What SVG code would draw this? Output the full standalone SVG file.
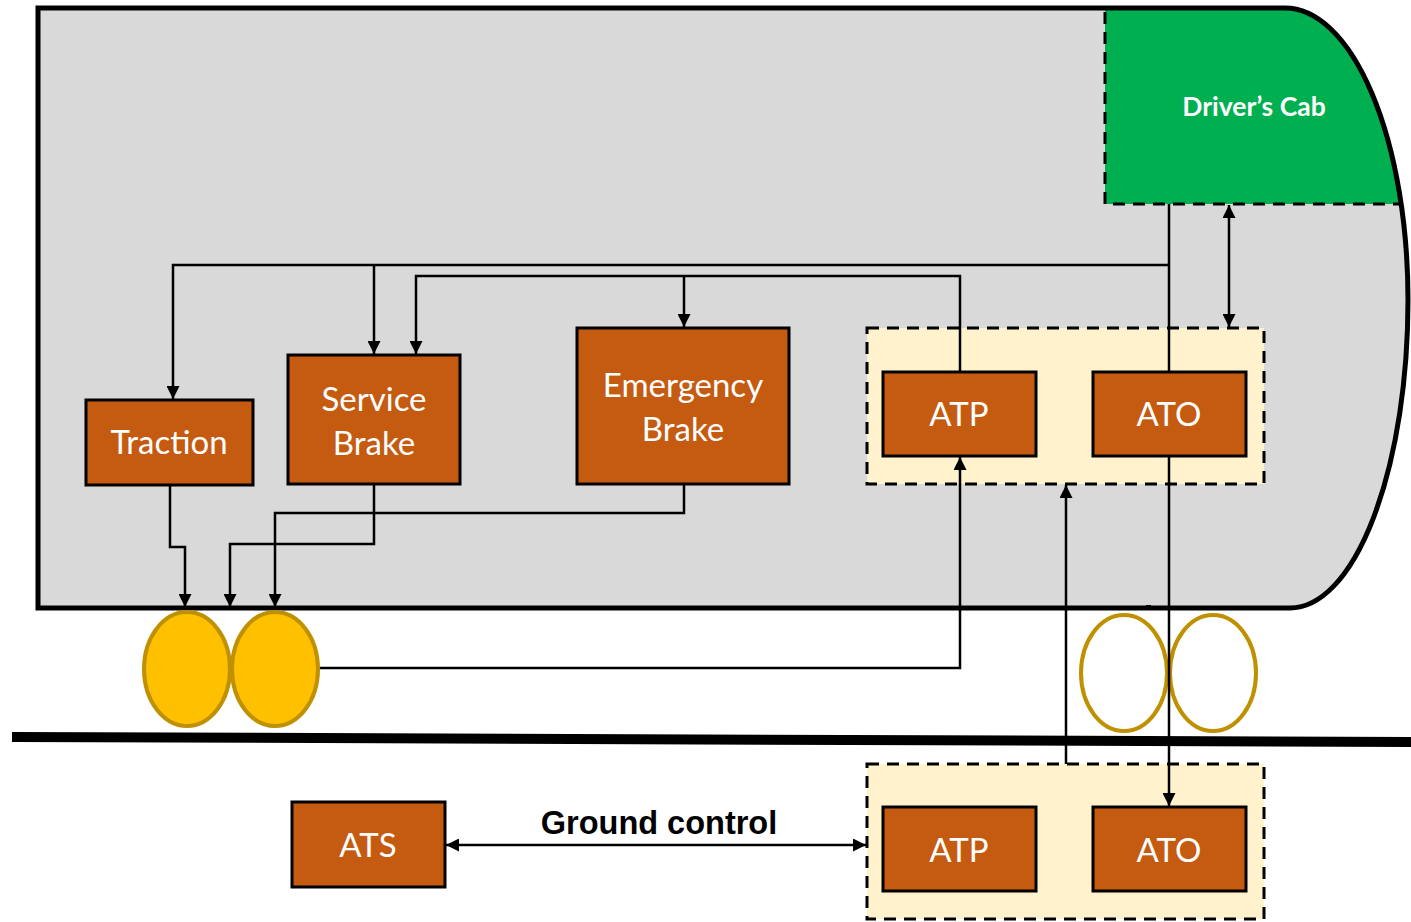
<svg xmlns="http://www.w3.org/2000/svg" width="1411" height="922" viewBox="0 0 1411 922">
<style>
.box{fill:#C55A11;stroke:#000;stroke-width:3}
.lbl{font-family:Lato,"Liberation Sans",sans-serif;font-size:33px;fill:#fff;text-anchor:middle}
.dash{fill:#FFF2CC;stroke:#000;stroke-width:3;stroke-dasharray:12,8}
.conn{fill:none;stroke:#000;stroke-width:2.5}
.wheel{stroke:#BF9000;stroke-width:4}
</style>
<defs>
<marker id="arr" markerUnits="userSpaceOnUse" markerWidth="13" markerHeight="13" refX="13" refY="6.5" orient="auto-start-reverse" viewBox="0 0 13 13">
<path d="M0,0 L13,6.5 L0,13 z" fill="#000"/>
</marker>
<clipPath id="bodyclip">
<path d="M38,8 L1285,8 A123,292 0 0 1 1408,300 A118,308 0 0 1 1290,608 L38,608 Z"/>
</clipPath>
</defs>
<rect width="1411" height="922" fill="#fff"/>
<g id="train">
<path d="M38,8 L1285,8 A123,292 0 0 1 1408,300 A118,308 0 0 1 1290,608 L38,608 Z" fill="#D9D9D9"/>
</g>
<g id="cab">
<rect x="1105" y="8" width="310" height="196" fill="#00B050" clip-path="url(#bodyclip)"/>
<path d="M1105,12 L1105,204 L1401,204" fill="none" stroke="#000" stroke-width="3" stroke-dasharray="12,8"/>
<text x="1254" y="116" font-family="Lato,'Liberation Sans',sans-serif" font-weight="bold" font-size="26.5" fill="#fff" text-anchor="middle">Driver’s Cab</text>
</g>
<path d="M38,8 L1285,8 A123,292 0 0 1 1408,300 A118,308 0 0 1 1290,608 L38,608 Z" fill="none" stroke="#000" stroke-width="5"/>
<rect x="1146" y="605" width="5" height="5" fill="#000"/>
<g id="onboard-group">
<rect class="dash" x="867" y="328" width="397" height="156"/>
</g>
<g id="ground-group">
<rect class="dash" x="867" y="764" width="397" height="155"/>
</g>
<g id="wheels">
<ellipse class="wheel" cx="187" cy="669" rx="43" ry="57" fill="#FFC000"/>
<ellipse class="wheel" cx="275" cy="669" rx="43" ry="57" fill="#FFC000"/>
<ellipse class="wheel" cx="1124" cy="673" rx="43" ry="58" fill="#fff"/>
<ellipse class="wheel" cx="1213" cy="673" rx="43" ry="58" fill="#fff"/>
</g>
<g id="rail">
<line x1="12" y1="737" x2="1411" y2="742" stroke="#000" stroke-width="10"/>
</g>
<g id="connectors">
<path class="conn" d="M1169,204 L1169,372"/>
<path class="conn" d="M1169,265 L173,265 L173,399" marker-end="url(#arr)"/>
<path class="conn" d="M374,265 L374,354" marker-end="url(#arr)"/>
<path class="conn" d="M960,372 L960,276 L416,276 L416,354" marker-end="url(#arr)"/>
<path class="conn" d="M684,276 L684,327" marker-end="url(#arr)"/>
<path class="conn" d="M1229,205 L1229,327" marker-start="url(#arr)" marker-end="url(#arr)"/>
<path class="conn" d="M1169,456 L1169,806" marker-end="url(#arr)"/>
<path class="conn" d="M1066,764 L1066,485" marker-end="url(#arr)"/>
<path class="conn" d="M320,668 L960,668 L960,457" marker-end="url(#arr)"/>
<path class="conn" d="M170,485 L170,547 L185,547 L185,607" marker-end="url(#arr)"/>
<path class="conn" d="M374,484 L374,544 L230,544 L230,607" marker-end="url(#arr)"/>
<path class="conn" d="M684,484 L684,513 L275,513 L275,607" marker-end="url(#arr)"/>
<path class="conn" d="M446,845 L866,845" marker-start="url(#arr)" marker-end="url(#arr)"/>
<text x="659" y="834" font-family="'Liberation Sans',Arial,sans-serif" font-weight="bold" font-size="32.5" fill="#000" text-anchor="middle">Ground control</text>
</g>
<g id="traction">
<rect class="box" x="86" y="400" width="167" height="85"/>
<text class="lbl" x="169" y="454">Traction</text>
</g>
<g id="service-brake">
<rect class="box" x="288" y="355" width="172" height="129"/>
<text class="lbl" x="374" y="411">Service</text>
<text class="lbl" x="374" y="455">Brake</text>
</g>
<g id="emergency-brake">
<rect class="box" x="577" y="328" width="212" height="156"/>
<text class="lbl" x="683" y="397">Emergency</text>
<text class="lbl" x="683" y="441">Brake</text>
</g>
<g id="atp-onboard">
<rect class="box" x="883" y="372" width="153" height="84"/>
<text class="lbl" x="959" y="426">ATP</text>
</g>
<g id="ato-onboard">
<rect class="box" x="1093" y="372" width="153" height="84"/>
<text class="lbl" x="1169" y="426">ATO</text>
</g>
<g id="atp-ground">
<rect class="box" x="883" y="807" width="153" height="84"/>
<text class="lbl" x="959" y="862">ATP</text>
</g>
<g id="ato-ground">
<rect class="box" x="1093" y="807" width="153" height="84"/>
<text class="lbl" x="1169" y="862">ATO</text>
</g>
<g id="ats">
<rect class="box" x="292" y="802" width="153" height="85"/>
<text class="lbl" x="368" y="857">ATS</text>
</g>
</svg>
